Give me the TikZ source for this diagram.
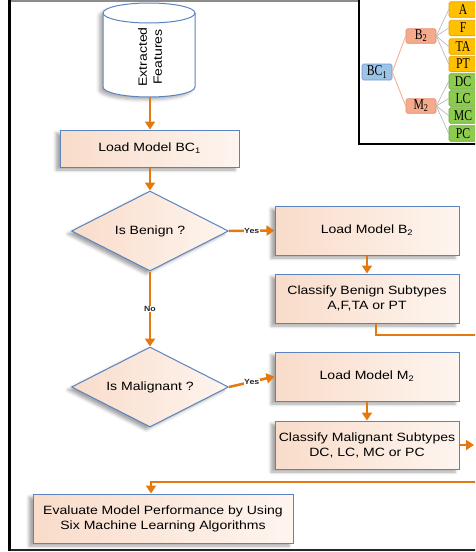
\documentclass[tikz,border=0pt]{standalone}
\usepackage{fontspec}
\setmainfont{Liberation Sans}[FakeStretch=1.17]
\newfontfamily\insetfont{Liberation Serif}[FakeStretch=0.78]
\usetikzlibrary{shapes.geometric,arrows.meta,shadows.blur,calc}
\definecolor{bordblue}{HTML}{5B83BE}
\definecolor{peachA}{HTML}{F9DCCA}
\definecolor{peachB}{HTML}{FEF5EF}
\definecolor{flowor}{HTML}{E5780E}
\definecolor{bcblue}{HTML}{9DC3E6}
\definecolor{bcblueD}{HTML}{6F9BCF}
\definecolor{salmon}{HTML}{F6AA8C}
\definecolor{salmonD}{HTML}{E58C6C}
\definecolor{leafor}{HTML}{FFC000}
\definecolor{leaforD}{HTML}{E0A100}
\definecolor{leafgr}{HTML}{8CCB4E}
\definecolor{leafgrD}{HTML}{67A83A}
\tikzset{
  flowbox/.style={draw=bordblue, line width=1pt, left color=peachA, right color=peachB,
    blur shadow={shadow xshift=-4pt, shadow yshift=-3pt, shadow blur radius=3pt, shadow opacity=35},
    align=center, inner sep=1pt, font=\fontsize{12}{15}\selectfont},
  decbox/.style={flowbox, diamond, aspect=1.96, inner sep=0pt},
  flowarrow/.style={draw=flowor, line width=2.5pt, -{Triangle[length=8pt,width=10pt]}},
  flowline/.style={draw=flowor, line width=2.5pt},
  yn/.style={fill=white, inner sep=0.6pt, font=\bfseries\fontsize{7.5}{8}\selectfont, text=black!85},
  tbox/.style={rounded corners=1.5pt, line width=0.6pt, inner sep=0pt, minimum width=30pt,
    font=\insetfont\fontsize{15}{15}\selectfont},
  leafO/.style={tbox, fill=leafor, draw=leaforD, minimum width=28pt, minimum height=15.5pt},
  leafG/.style={tbox, fill=leafgr, draw=leafgrD, minimum width=28pt, minimum height=15.5pt},
  tlink/.style={draw=black!30, line width=0.6pt},
  olink/.style={draw=salmon, line width=0.8pt}
}
\begin{document}
\begin{tikzpicture}[x=1pt,y=-1pt]
\useasboundingbox (0,0) rectangle (475,552);
\clip (0,0) rectangle (475,552);
% outer frame
\draw[black!45, line width=1.5pt] (9.5,1) -- (490,1);
\draw[black!85, line width=2pt] (9.5,550) -- (490,550);
\draw[black, line width=2.6pt] (9.5,0) -- (9.5,551);
% cylinder
\draw[bordblue, line width=1pt, fill=white,
  blur shadow={shadow xshift=-4pt, shadow yshift=-3pt, shadow blur radius=3pt, shadow opacity=30}]
  (103,13) -- (103,87) arc(180:360:46pt and 10pt) -- (195,13) arc(0:180:46pt and 10pt) -- cycle;
\draw[bordblue, line width=1pt] (103,13) arc(180:360:46pt and 10pt);
\node[rotate=90, align=center, font=\fontsize{12}{15}\selectfont] (feat) at (150,57) {Extracted\\Features};
\coordinate (cylb) at (150,97);
% flow nodes
\node[flowbox, minimum width=179pt, minimum height=37pt] (bc1) at (149.5,148.5) {Load Model BC\textsubscript{1}};
\node[decbox, minimum width=157pt, minimum height=80pt] (d1) at (150,231) {Is Benign ?};
\node[flowbox, minimum width=184pt, minimum height=49pt] (b2) at (367,230.5) {Load Model B\textsubscript{2}};
\node[flowbox, minimum width=184pt, minimum height=49pt] (cb) at (367,298.5) {Classify Benign Subtypes\\A,F,TA or PT};
\node[decbox, minimum width=157pt, minimum height=80pt] (d2) at (150,387) {Is Malignant ?};
\node[flowbox, minimum width=184pt, minimum height=49pt] (m2) at (367,376.5) {Load Model M\textsubscript{2}};
\node[flowbox, minimum width=184pt, minimum height=48pt] (cm) at (367,445) {Classify Malignant Subtypes\\DC, LC, MC or PC};
\node[flowbox, minimum width=260pt, minimum height=49pt] (ev) at (163,518.5) {Evaluate Model Performance by Using\\Six Machine Learning Algorithms};
\coordinate (r1) at (490,335);
\coordinate (r2) at (474,445);
\coordinate (r3) at (490,482);
% connectors
\draw[flowarrow] (cylb) -- (bc1.north -| cylb);
\draw[flowarrow] (bc1.south -| d1.north) -- (d1.north);
\draw[flowarrow] (d1.east) -- node[yn] {Yes} (b2.west);
\draw[flowarrow] (b2.south) -- (cb.north);
\draw[flowline] ($(cb.south)+(9,0)$) |- (r1);
\draw[flowarrow] (d1.south) -- node[yn, pos=0.5] {No} (d2.north);
\draw[flowarrow] (d2.east) -- node[yn] {Yes} (m2.west);
\draw[flowarrow] (m2.south) -- (cm.north);
\draw[flowarrow] (cm.east) -- (r2);
\draw[flowarrow] (r3) -| ($(ev.north)+(-12,0)$);
% inset
\fill[white] (359,0) rectangle (480,144);
\draw[black, line width=1.3pt] (359,0) -- (359,144) -- (480,144);
\node[tbox, fill=bcblue, draw=bcblueD, minimum height=16pt] (ibc) at (377,72) {BC\textsubscript{1}};
\node[tbox, fill=salmon, draw=salmonD, minimum height=14.5pt] (ib2) at (421,36) {B\textsubscript{2}};
\node[tbox, fill=salmon, draw=salmonD, minimum height=14.5pt] (im2) at (421,106) {M\textsubscript{2}};
\node[leafO] (la) at (463,9.5) {A};
\node[leafO] (lf) at (463,28) {F};
\node[leafO] (lta) at (463,46.5) {TA};
\node[leafO] (lpt) at (463,64) {PT};
\node[leafG] (ldc) at (463,81.5) {DC};
\node[leafG] (llc) at (463,98.5) {LC};
\node[leafG] (lmc) at (463,115.5) {MC};
\node[leafG] (lpc) at (463,133.5) {PC};
\draw[olink] (ibc.east) -- (ib2.west);
\draw[olink] (ibc.east) -- (im2.west);
\foreach \l in {la,lf,lta,lpt} \draw[tlink] (ib2.east) -- (\l.west);
\foreach \l in {ldc,llc,lmc,lpc} \draw[tlink] (im2.east) -- (\l.west);
\end{tikzpicture}
\end{document}
